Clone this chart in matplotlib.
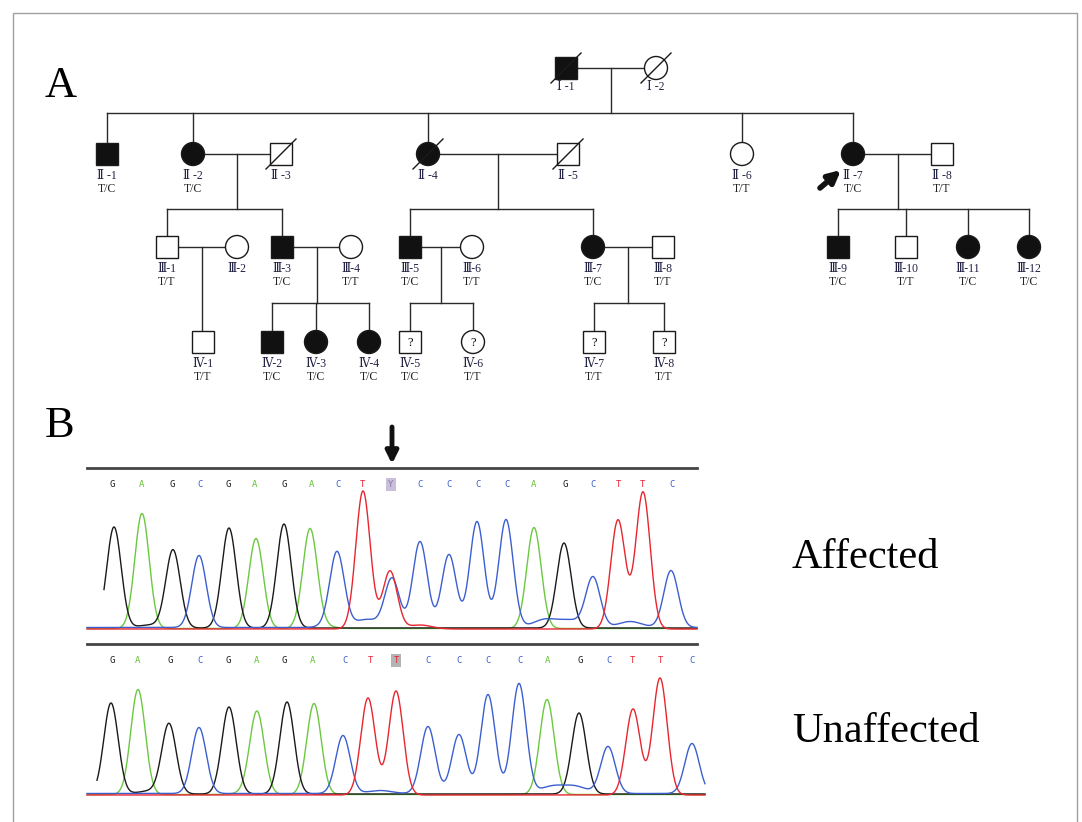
import matplotlib.pyplot as plt
import numpy as np
from matplotlib.patches import Rectangle, Circle

# ---------------- panel A: pedigree data ----------------
ped_ids = ['I-1', 'I-2',
           'II-1', 'II-2', 'II-3', 'II-4', 'II-5', 'II-6', 'II-7', 'II-8',
           'III-1', 'III-2', 'III-3', 'III-4', 'III-5', 'III-6', 'III-7', 'III-8',
           'III-9', 'III-10', 'III-11', 'III-12',
           'IV-1', 'IV-2', 'IV-3', 'IV-4', 'IV-5', 'IV-6', 'IV-7', 'IV-8']
ped_sex = ['M', 'F',
           'M', 'F', 'M', 'F', 'M', 'F', 'F', 'M',
           'M', 'F', 'M', 'F', 'M', 'F', 'F', 'M',
           'M', 'M', 'F', 'F',
           'M', 'M', 'F', 'F', 'M', 'F', 'M', 'M']
ped_affected = [1, 0,
                1, 1, 0, 1, 0, 0, 1, 0,
                0, 0, 1, 0, 1, 0, 1, 0,
                1, 0, 1, 1,
                0, 1, 1, 1, 0, 0, 0, 0]
ped_deceased = ['I-1', 'I-2', 'II-3', 'II-4', 'II-5']
ped_unknown = ['IV-5', 'IV-6', 'IV-7', 'IV-8']
ped_genotype = ['', '',
                'T/C', 'T/C', '', '', '', 'T/T', 'T/C', 'T/T',
                'T/T', '', 'T/C', 'T/T', 'T/C', 'T/T', 'T/C', 'T/T',
                'T/C', 'T/T', 'T/C', 'T/C',
                'T/T', 'T/C', 'T/C', 'T/C', 'T/C', 'T/T', 'T/T', 'T/T']
proband = 'II-7'

couples = [('I-1', 'I-2'), ('II-2', 'II-3'), ('II-4', 'II-5'), ('II-7', 'II-8'),
           ('III-1', 'III-2'), ('III-3', 'III-4'), ('III-5', 'III-6'), ('III-7', 'III-8')]
offspring = [['II-1', 'II-2', 'II-4', 'II-6', 'II-7'],
             ['III-1', 'III-3'],
             ['III-5', 'III-7'],
             ['III-9', 'III-10', 'III-11', 'III-12'],
             ['IV-1'],
             ['IV-2', 'IV-3', 'IV-4'],
             ['IV-5', 'IV-6'],
             ['IV-7', 'IV-8']]

# layout (pixel coordinates of the figure)
ped_x = {'I-1': 566, 'I-2': 656,
         'II-1': 107, 'II-2': 193, 'II-3': 281, 'II-4': 428, 'II-5': 568,
         'II-6': 742, 'II-7': 853, 'II-8': 942,
         'III-1': 167, 'III-2': 237, 'III-3': 282, 'III-4': 351, 'III-5': 410,
         'III-6': 472, 'III-7': 593, 'III-8': 663, 'III-9': 838, 'III-10': 906,
         'III-11': 968, 'III-12': 1029,
         'IV-1': 203, 'IV-2': 272, 'IV-3': 316, 'IV-4': 369, 'IV-5': 410,
         'IV-6': 473, 'IV-7': 594, 'IV-8': 664}
gen_y = {'I': 68, 'II': 154, 'III': 247, 'IV': 342}
sib_y = {'I': 113, 'II': 209, 'III': 303}
roman = {'I': '\u2160', 'II': '\u2161', 'III': '\u2162', 'IV': '\u2163'}

# ---------------- panel B: chromatogram data ----------------
aff_calls = list('GAGCGAGACTYCCCCAGCTTC')
aff_call_x = [112, 142, 172, 200, 228, 255, 284, 312, 338, 363, 391,
              420, 449, 478, 507, 534, 565, 593, 618, 643, 672]
aff_peak_base = ['G', 'A', 'G', 'C', 'G', 'A', 'G', 'A', 'C', 'T', 'T', 'C',
                 'C', 'C', 'C', 'C', 'A', 'G', 'C', 'T', 'T', 'C']
aff_peak_x = [114, 142, 173, 199, 229, 256, 284, 310, 337, 363, 390, 392,
              420, 449, 477, 506, 534, 564, 593, 618, 643, 671]
aff_peak_h = [101, 115, 78, 72, 100, 90, 104, 98, 73, 138, 58, 49,
              86, 73, 106, 108, 101, 85, 50, 109, 137, 57]
aff_minor_base = ['C', 'C', 'C', 'C', 'R', 'C', 'G', 'A']
aff_minor_x = [367, 545, 570, 630, 420, 335, 150, 320]
aff_minor_h = [8, 8, 7, 6, 4, 3, 3, 3]

unaff_calls = list('GAGCGAGACTTCCCCAGCTTC')
unaff_call_x = [112, 138, 170, 200, 228, 257, 284, 313, 345, 370, 396,
                428, 459, 488, 520, 548, 580, 609, 633, 660, 692]
unaff_peak_base = ['G', 'A', 'G', 'C', 'G', 'A', 'G', 'A', 'C', 'T', 'T',
                   'C', 'C', 'C', 'C', 'A', 'G', 'C', 'T', 'T', 'C']
unaff_peak_x = [111, 138, 169, 199, 229, 257, 287, 314, 343, 368, 396,
                428, 459, 488, 519, 547, 579, 608, 633, 660, 692]
unaff_peak_h = [91, 105, 70, 66, 87, 81, 92, 91, 58, 97, 104,
                67, 59, 99, 110, 95, 81, 47, 86, 117, 50]
unaff_minor_base = ['C', 'C', 'C', 'G', 'A']
unaff_minor_x = [552, 575, 380, 150, 250]
unaff_minor_h = [7, 7, 3, 3, 3]

base_color = {'G': '#1a1a1a', 'A': '#66c23a', 'C': '#3a5cc8', 'T': '#e32430'}
trace_color = {'G': '#1a1a1a', 'A': '#6cc840', 'C': '#3c5fd0', 'T': '#e8262f'}

serif = ['Liberation Serif', 'DejaVu Serif']

fig = plt.figure(figsize=(10.82, 8.22), dpi=100)
ax = fig.add_axes([0, 0, 1, 1])
ax.set_xlim(0, 1082)
ax.set_ylim(822, 0)
ax.axis('off')

# outer frame
ax.plot([13, 13, 1077, 1077], [822, 13, 13, 822], color='#a0a0a0', lw=1.0)

# panel letters
ax.text(45, 97, 'A', fontsize=32, family=serif, va='baseline', ha='left')
ax.text(45, 437, 'B', fontsize=32, family=serif, va='baseline', ha='left')

# ---- pedigree ----
info = {}
for i, pid in enumerate(ped_ids):
    gen = pid.split('-')[0]
    info[pid] = dict(x=ped_x[pid], y=gen_y[gen], gen=gen, sex=ped_sex[i],
                     aff=ped_affected[i], geno=ped_genotype[i])

half = 11
lc = '#2a2a2a'
for (p1, p2), kids in zip(couples, offspring):
    a, b = info[p1], info[p2]
    ax.plot([a['x'], b['x']], [a['y'], a['y']], color=lc, lw=1.0, zorder=1)
    mx = (a['x'] + b['x']) / 2
    if len(kids) == 1:
        ax.plot([mx, mx], [a['y'], info[kids[0]]['y']], color=lc, lw=1.0, zorder=1)
        continue
    sy = sib_y[a['gen']]
    ax.plot([mx, mx], [a['y'], sy], color=lc, lw=1.0, zorder=1)
    xs = [info[k]['x'] for k in kids]
    ax.plot([min(xs + [mx]), max(xs + [mx])], [sy, sy], color=lc, lw=1.0, zorder=1)
    for k in kids:
        ax.plot([info[k]['x'], info[k]['x']], [sy, info[k]['y']], color=lc, lw=1.0, zorder=1)

for pid in ped_ids:
    d = info[pid]
    fc = '#111111' if d['aff'] else 'white'
    if d['sex'] == 'M':
        shape = Rectangle((d['x'] - half, d['y'] - half), 2 * half, 2 * half,
                          fc=fc, ec='#1a1a1a', lw=1.0, zorder=3)
    else:
        shape = Circle((d['x'], d['y']), half + 0.5, fc=fc, ec='#1a1a1a', lw=1.0, zorder=3)
    ax.add_patch(shape)
    if pid in ped_deceased:
        ax.plot([d['x'] - 15, d['x'] + 15], [d['y'] + 15, d['y'] - 15],
                color='#1a1a1a', lw=1.0, zorder=4)
    if pid in ped_unknown:
        ax.text(d['x'], d['y'] + 1, '?', fontsize=9, family=serif,
                ha='center', va='center', zorder=5)
    gen, num = pid.split('-')
    label = roman[gen] + (' ' if gen in ('I', 'II') else '') + '-' + num
    dy = 19 if gen == 'I' else 22
    ax.text(d['x'], d['y'] + dy, label, fontsize=8.5, family=serif,
            ha='center', va='center', color='#222244')
    if d['geno']:
        ax.text(d['x'], d['y'] + dy + 13, d['geno'], fontsize=8.5, family=serif,
                ha='center', va='center', color='#222222')

# proband arrow
pb = info[proband]
ax.annotate('', xy=(pb['x'] - 12, pb['y'] + 16), xytext=(pb['x'] - 33, pb['y'] + 34),
            arrowprops=dict(arrowstyle='-|>', lw=4, color='#111111',
                            mutation_scale=18, shrinkA=0, shrinkB=0))


# ---- chromatograms ----
def draw_trace(base_y, line_y, x_end, calls, call_x, pk_base, pk_x, pk_h,
               mn_base, mn_x, mn_h, hl_idx, hl_color, black_start):
    ax.plot([87, 697], [line_y, line_y], color='#444444', lw=2.0)
    sigma = 7.2
    for ch, offs in zip(['A', 'G', 'C', 'T'], [0.5, 0.0, -0.5, 1.0]):
        x0 = black_start if ch == 'G' else 87
        xx = np.linspace(x0, x_end, 1400)
        yy = np.zeros_like(xx)
        for b, px, h in zip(pk_base, pk_x, pk_h):
            if b == ch:
                yy += h * np.exp(-(xx - px) ** 2 / (2 * sigma ** 2))
        for b, px, h in zip(mn_base, mn_x, mn_h):
            if b == ch or (b == 'R' and ch == 'T'):
                yy += h * np.exp(-(xx - px) ** 2 / (2 * (sigma * 1.6) ** 2))
        ax.plot(xx, base_y + offs - yy, color=trace_color[ch], lw=1.0)
    ty = line_y + 16
    for i, (c, cx) in enumerate(zip(calls, call_x)):
        col = base_color.get(c, '#8a7aa8')
        if i == hl_idx:
            ax.add_patch(Rectangle((cx - 5, ty - 6.5), 10, 13, fc=hl_color, ec='none', zorder=2))
        ax.text(cx, ty, c, fontsize=6.5, family='DejaVu Sans Mono', color=col,
                ha='center', va='center', zorder=3)


draw_trace(628, 468, 697, aff_calls, aff_call_x, aff_peak_base, aff_peak_x,
           aff_peak_h, aff_minor_base, aff_minor_x, aff_minor_h, 10, '#c9bfdc', 104)
draw_trace(794, 644, 705, unaff_calls, unaff_call_x, unaff_peak_base, unaff_peak_x,
           unaff_peak_h, unaff_minor_base, unaff_minor_x, unaff_minor_h, 10, '#b4b4b4', 97)

# mutation arrow
ax.annotate('', xy=(392, 464), xytext=(392, 427),
            arrowprops=dict(arrowstyle='-|>', lw=3.5, color='#111111',
                            mutation_scale=18, shrinkA=0, shrinkB=0))

ax.text(792, 568, 'Affected', fontsize=30.5, family=serif, va='baseline', ha='left')
ax.text(792, 742, 'Unaffected', fontsize=30.5, family=serif, va='baseline', ha='left')

plt.savefig('out.png', dpi=100)
